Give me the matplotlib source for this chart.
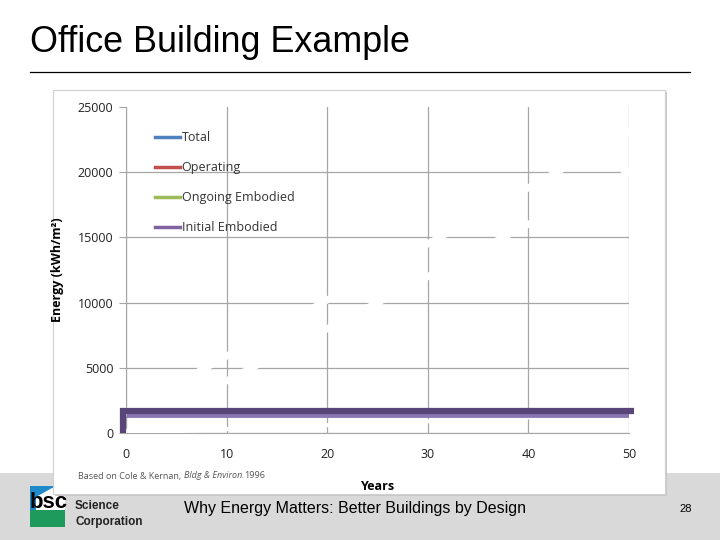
import numpy as np
import matplotlib.pyplot as plt
from matplotlib.patches import Rectangle, Polygon
from matplotlib.lines import Line2D

# datos (kWh/m2 acumulados)
years = [0, 10, 20, 30, 40, 50]
total = [1600, 5900, 10200, 14500, 18800, 23100]
operating = [0, 4000, 8000, 12000, 16000, 20000]
ongoing = [0, 300, 600, 900, 1200, 1500]
initial_years = [-0.3, -0.3, 50.5]
initial = [0, 1650, 1650]
initial_low_years = [0, 50]
initial_low = [1350, 1350]

series_names = ["Total", "Operating", "Ongoing Embodied", "Initial Embodied"]
series_colors = ["#4F81BD", "#C0504D", "#9BBB59", "#8064A2"]
y_ticks = [0, 5000, 10000, 15000, 20000, 25000]
x_ticks = [0, 10, 20, 30, 40, 50]

W, H = 720, 540
fig = plt.figure(figsize=(7.2, 5.4), dpi=100)
fig.patch.set_facecolor("white")

def fx(px):
    return px / W

def fy(py):
    return 1 - py / H

# banda gris inferior de la diapositiva
fig.patches.append(Rectangle((0, 0), 1, fy(473), transform=fig.transFigure,
                             facecolor="#d9d9d9", edgecolor="none", zorder=0))

# titulo y linea
fig.text(fx(30), fy(43), "Office Building Example", fontsize=25.8,
         family="Liberation Sans", va="center", ha="left")
fig.add_artist(Line2D([fx(30), fx(690)], [fy(72), fy(72)], color="black",
                      lw=0.9, transform=fig.transFigure))

# recuadro del grafico con sombra
fig.patches.append(Rectangle((fx(55), fy(496)), fx(612), fy(92) - fy(496),
                             transform=fig.transFigure, facecolor="#c8c8c8",
                             edgecolor="none", zorder=1))
fig.patches.append(Rectangle((fx(53), fy(494)), fx(612), fy(90) - fy(494),
                             transform=fig.transFigure, facecolor="white",
                             edgecolor="#d0d0d0", lw=0.8, zorder=1))

ax = fig.add_axes([fx(126), fy(433), fx(629) - fx(126), fy(107) - fy(433)])
ax.set_facecolor("none")
ax.set_zorder(2)

# lineas ocultas (dibujadas en blanco en la animacion)
ax.plot(years, total, color="white", lw=5, zorder=3)
ax.plot(years, operating, color="white", lw=5, zorder=3)
ax.plot(years, ongoing, color="white", lw=3, zorder=3)
# embodied inicial
ax.plot(initial_low_years, initial_low, color="#8A76B2", lw=3.5, zorder=4,
        solid_capstyle="butt")
ax.plot(initial_years, initial, color="#574677", lw=4.5, zorder=5,
        solid_capstyle="butt", solid_joinstyle="miter", clip_on=False)

ax.set_xlim(0, 50)
ax.set_ylim(0, 25000)
ax.set_xticks(x_ticks)
ax.set_yticks(y_ticks)
ax.grid(True, color="#a6a6a6", lw=0.9)
ax.yaxis.get_gridlines()[-1].set_visible(False)
ax.set_axisbelow(True)
for s in ["top", "right"]:
    ax.spines[s].set_visible(False)
ax.spines["left"].set_color("#a6a6a6")
ax.spines["bottom"].set_color("#a6a6a6")
ax.tick_params(axis="y", length=5, color="#a6a6a6", labelsize=9, pad=4,
               labelcolor="#222222")
ax.tick_params(axis="x", length=0, labelsize=9, pad=11, labelcolor="#222222")
for t in ax.get_xticklabels() + ax.get_yticklabels():
    t.set_family("Open Sans")

ax.set_xlabel("Years", fontsize=9, fontweight="bold", family="Open Sans")
ax.set_ylabel("Energy (kWh/m\u00b2)", fontsize=9, fontweight="bold",
              family="Open Sans")
ax.xaxis.set_label_coords((378 - 126) / 503, -(480 - 433) / 326)
ax.yaxis.set_label_coords(-(126 - 64) / 503, (433 - 270) / 326)

handles = [Line2D([], [], color=c, lw=2.5) for c in series_colors]
leg = ax.legend(handles, series_names, loc="upper left",
                bbox_to_anchor=(0.035, 0.96), frameon=False,
                prop={"family": "Open Sans", "size": 9}, labelspacing=1.36,
                handlelength=2.0, handletextpad=0.15)
for t in leg.get_texts():
    t.set_color("#333333")

# nota de fuente (fragmentos colocados uno tras otro)
fig.canvas.draw()
renderer = fig.canvas.get_renderer()
x_cur = fx(78)
for frag, sty in [("Based on Cole & Kernan, ", "normal"),
                  ("Bldg & Environ.", "italic"), ("1996", "normal")]:
    t = fig.text(x_cur, fy(476), frag, fontsize=6.5, family="Open Sans",
                 style=sty, color="#555555", va="center", zorder=3)
    bb = t.get_window_extent(renderer)
    x_cur = x_cur + bb.width / W

# pie de diapositiva
fig.text(fx(355), fy(508), "Why Energy Matters: Better Buildings by Design",
         fontsize=11.5, family="Liberation Sans", ha="center", va="center")
fig.text(fx(686), fy(509), "28", fontsize=8, family="Liberation Sans",
         ha="center", va="center")

# logo bsc
fig.patches.append(Rectangle((fx(30), fy(510)), fx(35), fy(486) - fy(510),
                             transform=fig.transFigure, facecolor="#1f8ac9",
                             edgecolor="none", zorder=0.5))
fig.patches.append(Polygon([(fx(36), fy(497)), (fx(52), fy(488)),
                            (fx(65), fy(492)), (fx(65), fy(510)),
                            (fx(36), fy(510))], closed=True,
                           transform=fig.transFigure, facecolor="white",
                           edgecolor="none", zorder=0.6))
fig.patches.append(Rectangle((fx(30), fy(527)), fx(35), fy(510) - fy(527),
                             transform=fig.transFigure, facecolor="#1e9a5c",
                             edgecolor="none", zorder=0.6))
fig.text(fx(30), fy(502), "bsc", fontsize=16, fontweight="bold",
         family="Liberation Sans", color="black", va="center", zorder=0.7)
fig.text(fx(75), fy(506), "Science", fontsize=8.5, fontweight="bold",
         family="Liberation Sans", color="#222222", va="center", zorder=0.7)
fig.text(fx(75), fy(522), "Corporation", fontsize=8.5, fontweight="bold",
         family="Liberation Sans", color="#222222", va="center", zorder=0.7)

fig.savefig("out.png", dpi=100)
